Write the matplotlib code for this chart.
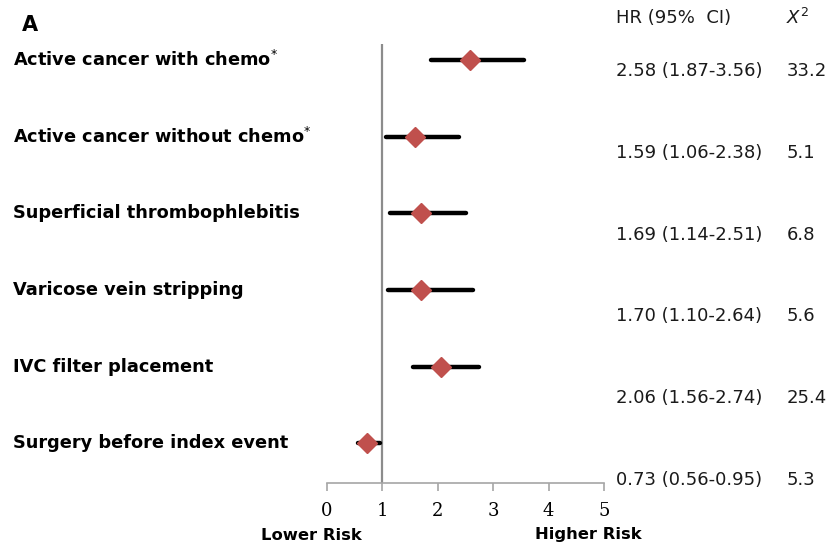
import matplotlib
matplotlib.use("Agg")
import matplotlib.pyplot as plt
import matplotlib.transforms as mtrans

# data
labels = ["Active cancer with chemo", "Active cancer without chemo",
          "Superficial thrombophlebitis", "Varicose vein stripping",
          "IVC filter placement", "Surgery before index event"]
starred = [True, True, False, False, False, False]
hr = [2.58, 1.59, 1.69, 1.70, 2.06, 0.73]
lo = [1.87, 1.06, 1.14, 1.10, 1.56, 0.56]
hi = [3.56, 2.38, 2.51, 2.64, 2.74, 0.95]
chi2 = ["33.2", "5.1", "6.8", "5.6", "25.4", "5.3"]
xticks = [0, 1, 2, 3, 4, 5]

fig = plt.figure(figsize=(8.4, 5.49), dpi=100)
ax = fig.add_axes([327/840, 1-483/549, 277/840, 439/549])

rows = list(range(len(labels)))
for i in rows:
    ax.plot([lo[i], hi[i]], [i, i], color="black", lw=3.2,
            solid_capstyle="round", zorder=2)
ax.plot(hr, rows, linestyle="none", marker="D", ms=10.5, color="#c0504d",
        markeredgecolor="#c0504d", zorder=3)

ax.axvline(1, color="#8c8c8c", lw=1.6, zorder=1)

ax.set_xlim(0, 5)
ax.set_ylim(5.52, -0.21)
for s in ["top", "right", "left"]:
    ax.spines[s].set_visible(False)
ax.spines["bottom"].set_color("#a6a6a6")
ax.spines["bottom"].set_linewidth(1.2)
ax.set_yticks([])
ax.set_xticks(xticks)
ax.set_xticklabels([str(t) for t in xticks], family="DejaVu Serif", fontsize=13)
ax.tick_params(axis="x", length=6, color="#a6a6a6", width=1.2, pad=8)

# left labels sit on the rows
blend = mtrans.blended_transform_factory(fig.transFigure, ax.transData)
for i, lab in enumerate(labels):
    txt = lab + (r"$^{*}$" if starred[i] else "")
    ax.text(13/840, i, txt, transform=blend, fontsize=12.8,
            fontweight="bold", family="DejaVu Sans", va="center")

# right-hand table has its own spacing
for i in rows:
    ypix = 71 + 81.8 * i
    fig.text(616/840, 1 - ypix/549, "%.2f (%.2f-%.2f)" % (hr[i], lo[i], hi[i]),
             fontsize=13, family="DejaVu Sans", va="center", color="#1a1a1a")
    fig.text(787/840, 1 - ypix/549, chi2[i], fontsize=13,
             family="DejaVu Sans", va="center", color="#1a1a1a")

fig.text(22/840, 1-25/549, "A", fontsize=15, fontweight="bold",
         family="DejaVu Sans", va="center")
fig.text(616/840, 1-18/549, "HR (95%  CI)", fontsize=13,
         family="DejaVu Sans", va="center", color="#1a1a1a")
fig.text(786/840, 1-18/549, r"$X^2$", fontsize=13, va="center",
         color="#1a1a1a")

fig.text(311/840, 1-535/549, "Lower Risk", fontsize=11.8, fontweight="bold",
         family="DejaVu Sans", ha="center", va="center")
fig.text(588/840, 1-535/549, "Higher Risk", fontsize=11.8, fontweight="bold",
         family="DejaVu Sans", ha="center", va="center")

fig.savefig("out.png", dpi=100)
